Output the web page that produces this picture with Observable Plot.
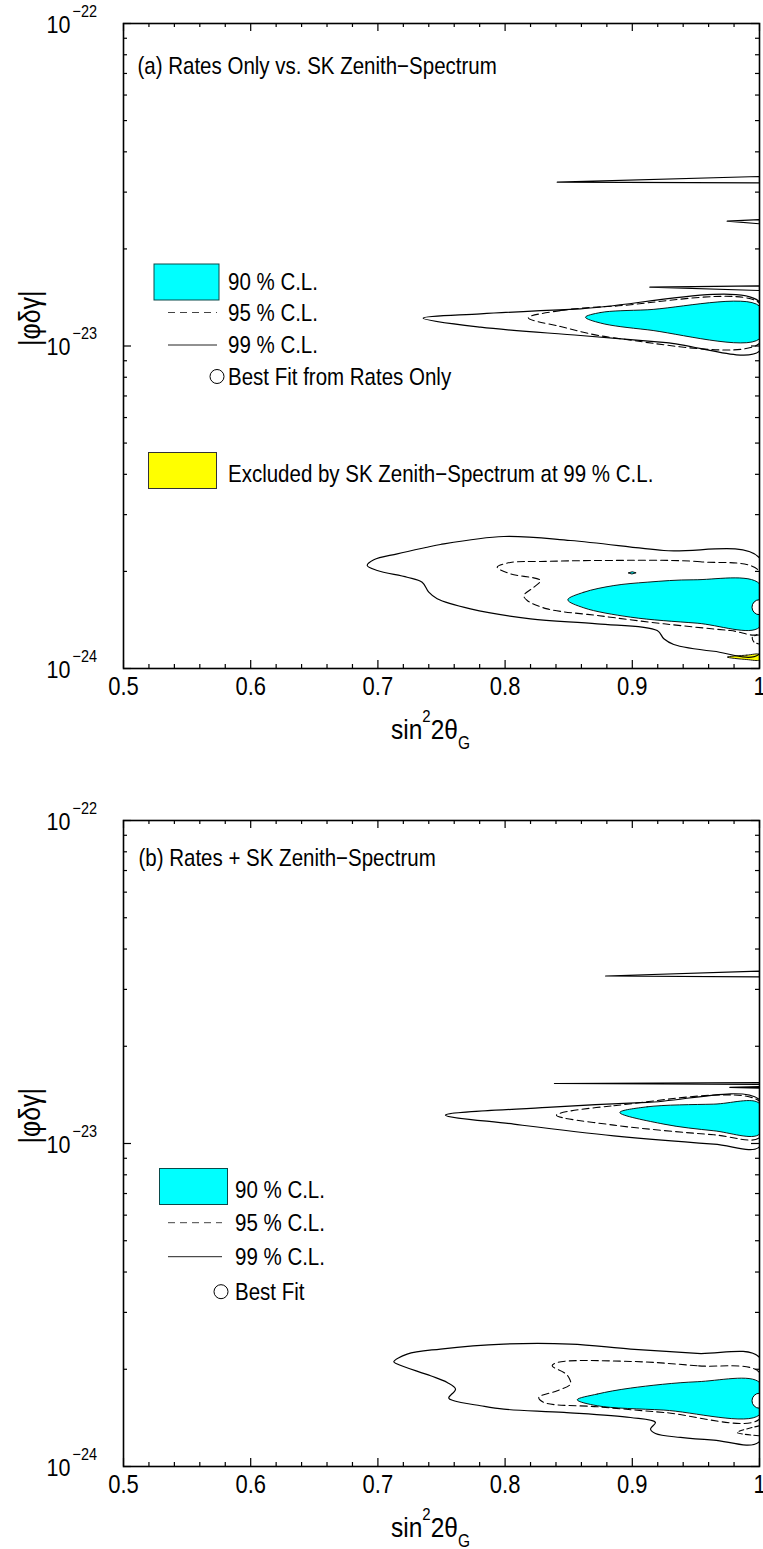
<!DOCTYPE html>
<html><head><meta charset="utf-8">
<script src="https://cdn.jsdelivr.net/npm/d3@7"></script>
<script src="https://cdn.jsdelivr.net/npm/@observablehq/plot@0.6"></script>
<style>
html,body{margin:0;padding:0;background:#fff;}
#chart{width:763px;}
#chart svg{display:block;}
</style></head><body><div id="chart"></div>
<script>
// ---------- axis ticks ----------
const xMajorTicks = [0.5, 0.6, 0.7, 0.8, 0.9, 1.0];
const xMinorTicks = [0.52,0.54,0.56,0.58,0.62,0.64,0.66,0.68,0.72,0.74,0.76,0.78,0.82,0.84,0.86,0.88,0.92,0.94,0.96,0.98];
const yExponents = [-22, -23, -24];
const yMinorMantissas = [2,3,4,5,6,7,8,9];
const yMinorDecades = [-24, -23];

// ---------- panel (a): Rates Only vs SK Zenith-Spectrum ----------
const a99Upper = [[0.7356,1.22e-23],[0.7807,1.258e-23],[0.8593,1.304e-23],[1.0,1.371e-23],[1.0,0.964e-23],[0.9266,1.025e-23],[0.8593,1.078e-23],[0.7807,1.144e-23]];
const a95Upper = [[0.8182,1.223e-23],[0.8436,1.288e-23],[0.8855,1.329e-23],[1.0,1.357e-23],[1.0,1.02e-23],[0.8855,1.06e-23],[0.8436,1.149e-23]];
const a90Upper = [[0.8632,1.228e-23],[0.875,1.27e-23],[0.9117,1.295e-23],[1.0,1.329e-23],[1.0,1.053e-23],[0.9117,1.123e-23],[0.875,1.178e-23]];
const a99Sliver1 = [[0.841,3.221e-23],[1.0,3.355e-23],[1.0,3.207e-23]];
const a99Sliver2 = [[0.9746,2.438e-23],[1.0,2.467e-23],[1.0,2.393e-23]];
const a99Sliver3 = [[0.9138,1.522e-23],[1.0,1.537e-23],[1.0,1.486e-23]];
const a99Lower = [[1.0,2.204e-24],[0.9248,2.322e-24],[0.8514,2.494e-24],[0.799,2.566e-24],[0.7492,2.424e-24],[0.7388,2.377e-24],[0.7152,2.268e-24],[0.6968,2.173e-24],[0.6916,2.086e-24],[0.6995,2.013e-24],[0.723,1.919e-24],[0.7348,1.852e-24],[0.74,1.724e-24],[0.7466,1.645e-24],[0.7728,1.531e-24],[0.82,1.426e-24],[0.8724,1.376e-24],[0.9196,1.311e-24],[0.9248,1.236e-24],[0.9326,1.187e-24],[0.9641,1.131e-24],[1.0,1.111e-24]];
const a95Lower = [[1.0,2.003e-24],[0.9536,2.142e-24],[0.875,2.162e-24],[0.8278,2.147e-24],[0.8042,2.132e-24],[0.7938,2.061e-24],[0.8042,1.966e-24],[0.8278,1.874e-24],[0.8226,1.787e-24],[0.8147,1.684e-24],[0.8174,1.625e-24],[0.8331,1.531e-24],[0.8724,1.46e-24],[0.9248,1.376e-24],[0.9772,1.311e-24],[1.0,1.287e-24]];
const a95Hook = [[1.0,1.27e-24],[0.9945,1.255e-24],[0.9955,1.21e-24],[1.0,1.19e-24]];
const a90Lower = [[0.8493,1.633e-24],[0.8619,1.724e-24],[0.8855,1.808e-24],[0.9117,1.852e-24],[0.9484,1.884e-24],[1.0,1.831e-24],[1.0,1.343e-24],[0.951,1.382e-24],[0.8986,1.443e-24],[0.8619,1.542e-24]];
const a90Speck = [[0.897,1.98e-24],[0.9,1.995e-24],[0.903,1.98e-24],[0.9,1.965e-24]];
const aExcluded = [[0.9746,1.085e-24],[0.99,1.1e-24],[1.0,1.105e-24],[1.0,1.064e-24],[0.99,1.066e-24]];
const aBestFit = [[1.0,1.549e-24]];

// ---------- panel (b): Rates + SK Zenith-Spectrum ----------
const b99Sliver1 = [[0.879,3.3e-23],[1.0,3.42e-23],[1.0,3.28e-23]];
const b99Line1 = [[0.8388,1.534e-23],[1.0,1.545e-23],[1.0,1.525e-23]];
const b99Line2 = [[0.9767,1.491e-23],[1.0,1.5e-23],[1.0,1.483e-23]];
const b99Upper = [[0.7531,1.224e-23],[0.8331,1.293e-23],[0.9117,1.34e-23],[1.0,1.366e-23],[1.0,0.977e-23],[0.9641,0.996e-23],[0.8855,1.056e-23],[0.8068,1.148e-23]];
const b95Upper = [[0.8404,1.224e-23],[0.8855,1.309e-23],[1.0,1.349e-23],[1.0,1.044e-23],[0.9641,1.064e-23],[0.8855,1.14e-23]];
const b90Upper = [[0.8902,1.247e-23],[0.9117,1.299e-23],[0.9641,1.324e-23],[1.0,1.33e-23],[1.0,1.069e-23],[0.9641,1.095e-23],[0.9248,1.148e-23]];
const b99Lower = [[1.0,2.176e-24],[0.951,2.239e-24],[0.8986,2.31e-24],[0.8514,2.394e-24],[0.799,2.394e-24],[0.7492,2.31e-24],[0.723,2.229e-24],[0.7125,2.11e-24],[0.7152,2.076e-24],[0.7414,1.909e-24],[0.7545,1.82e-24],[0.761,1.737e-24],[0.7557,1.629e-24],[0.7597,1.598e-24],[0.7807,1.542e-24],[0.799,1.505e-24],[0.8462,1.47e-24],[0.8986,1.418e-24],[0.9182,1.369e-24],[0.9143,1.306e-24],[0.9182,1.265e-24],[0.9379,1.23e-24],[0.9641,1.207e-24],[1.0,1.195e-24]];
const b95Lower = [[1.0,1.955e-24],[0.951,2.05e-24],[0.8986,2.115e-24],[0.841,2.1e-24],[0.837,2.05e-24],[0.8462,1.955e-24],[0.8501,1.887e-24],[0.8514,1.8e-24],[0.841,1.716e-24],[0.8265,1.636e-24],[0.8304,1.579e-24],[0.8724,1.531e-24],[0.9248,1.47e-24],[1.0,1.402e-24]];
const b95Hook = [[1.0,1.337e-24],[0.9825,1.274e-24],[1.0,1.245e-24]];
const b90Lower = [[0.8567,1.609e-24],[0.8724,1.676e-24],[0.8986,1.749e-24],[0.951,1.83e-24],[1.0,1.82e-24],[1.0,1.446e-24],[0.9248,1.495e-24],[0.8724,1.542e-24]];
const bBestFit = [[1.0,1.598e-24]];

// ---------- text ----------
const labelA = "(a) Rates Only vs. SK Zenith\u2212Spectrum";
const labelB = "(b) Rates + SK Zenith\u2212Spectrum";
const legendA = ["90 % C.L.", "95 % C.L.", "99 % C.L.", "Best Fit from Rates Only"];
const legendB = ["90 % C.L.", "95 % C.L.", "99 % C.L.", "Best Fit"];
const excludedLabel = "Excluded by SK Zenith\u2212Spectrum at 99 % C.L.";
const yTitle = "|\u03c6\u03b4\u03b3|";

const FONT = "'Liberation Sans', Arial, Helvetica, sans-serif";
const STRETCH = 1.15;   // reference lettering is a condensed Helvetica: taller than wide
const CYAN = "#00ffff", YELLOW = "#ffff00";
const W = 763, ML = 123, MR = 4;
const X = d => d[0], Y = d => d[1];

// stretch each text vertically about its own centre (needs the svg in the DOM)
function stretchText(svg) {
  d3.select(svg).selectAll("text").each(function () {
    const b = this.getBBox();
    const cy = b.y + b.height / 2;
    const tr = this.getAttribute("transform") || "";
    this.setAttribute("transform", `${tr} translate(0,${cy}) scale(1,${STRETCH}) translate(0,${-cy})`.trim());
  });
}

function panel(cfg) {
  const frameH = cfg.height - cfg.marginTop - cfg.marginBottom;
  const frameW = W - ML - MR;
  const yMajor = yExponents.map(e => Math.pow(10, e));
  const yMinor = yMinorDecades.flatMap(e => yMinorMantissas.map(m => m * Math.pow(10, e)));
  const marks = [];
  for (const c of cfg.fills) marks.push(Plot.line(c.data, {x: X, y: Y, fill: c.fill, stroke: "#000", strokeWidth: 0.9, curve: c.curve || "catmull-rom-closed", clip: true}));
  for (const c of cfg.dashed) marks.push(Plot.line(c, {x: X, y: Y, stroke: "#000", strokeWidth: 1.1, strokeDasharray: "7,4", curve: "catmull-rom-closed", clip: true}));
  for (const c of cfg.dashedOpen) marks.push(Plot.line(c, {x: X, y: Y, stroke: "#000", strokeWidth: 1.1, strokeDasharray: "5,3", curve: "catmull-rom", clip: true}));
  for (const c of cfg.solid) marks.push(Plot.line(c, {x: X, y: Y, stroke: "#000", strokeWidth: 1.2, curve: "catmull-rom-closed", clip: true}));
  for (const c of cfg.slivers) marks.push(Plot.line(c, {x: X, y: Y, stroke: "#000", strokeWidth: 1.2, curve: "linear-closed", clip: true}));
  marks.push(Plot.dot(cfg.best, {x: X, y: Y, r: 7.5, fill: "white", stroke: "#000", strokeWidth: 1, clip: true}));
  marks.push(Plot.frame({stroke: "#000", strokeWidth: 1.6}));
  marks.push(Plot.tickX(xMajorTicks, {x: d => d, insetTop: frameH - 8, stroke: "#000", strokeWidth: 1.2}));
  marks.push(Plot.tickX(xMajorTicks, {x: d => d, insetBottom: frameH - 8, stroke: "#000", strokeWidth: 1.2}));
  marks.push(Plot.tickX(xMinorTicks, {x: d => d, insetTop: frameH - 4, stroke: "#000", strokeWidth: 1.2}));
  marks.push(Plot.tickX(xMinorTicks, {x: d => d, insetBottom: frameH - 4, stroke: "#000", strokeWidth: 1.2}));
  marks.push(Plot.tickY(yMajor, {y: d => d, insetRight: frameW - 8, stroke: "#000", strokeWidth: 1.2}));
  marks.push(Plot.tickY(yMajor, {y: d => d, insetLeft: frameW - 8, stroke: "#000", strokeWidth: 1.2}));
  marks.push(Plot.tickY(yMinor, {y: d => d, insetRight: frameW - 4, stroke: "#000", strokeWidth: 1.2}));
  marks.push(Plot.tickY(yMinor, {y: d => d, insetLeft: frameW - 4, stroke: "#000", strokeWidth: 1.2}));
  marks.push(Plot.text(xMajorTicks, {x: d => d, frameAnchor: "bottom", dy: 25, text: d => d === 1 ? "1" : d.toFixed(1), fontSize: 22, fill: "#000"}));
  marks.push(Plot.text(yExponents, {y: d => Math.pow(10, d), frameAnchor: "left", textAnchor: "end", dx: -53, dy: 1.5, text: () => "10", fontSize: 21.5, fill: "#000"}));
  marks.push(Plot.text(yExponents, {y: d => Math.pow(10, d), frameAnchor: "left", textAnchor: "start", dx: -51, dy: -12, text: d => "\u2212" + (-d), fontSize: 14.5, fill: "#000"}));
  marks.push(Plot.text([yTitle], {frameAnchor: "left", dx: -93, rotate: -90, fontSize: 25, fill: "#000"}));
  marks.push(Plot.text([cfg.label], {frameAnchor: "top-left", dx: cfg.labelDx, dy: cfg.labelDy, textAnchor: "start", fontSize: 20.5, fill: "#000"}));

  const svg = Plot.plot({
    width: W, height: cfg.height,
    marginLeft: ML, marginRight: MR, marginTop: cfg.marginTop, marginBottom: cfg.marginBottom,
    style: {fontFamily: FONT, background: "white", color: "#000", overflow: "visible"},
    x: {domain: [0.5, 1.0], axis: null},
    y: {type: "log", domain: [1e-24, 1e-22], axis: null},
    marks
  });

  const g = d3.select(svg).append("g").attr("font-family", FONT).attr("fill", "#000").attr("text-anchor", "start");
  const t = g.append("text").attr("x", 391).attr("y", cfg.titleBaseline).attr("font-size", 24.5).attr("text-anchor", "start");
  t.append("tspan").text("sin");
  t.append("tspan").attr("dy", -15).attr("font-size", 15).text("2");
  t.append("tspan").attr("dy", 15).text("2\u03b8");
  t.append("tspan").attr("dy", 8.5).attr("font-size", 15.5).text("G");

  const L = cfg.legend;
  g.append("rect").attr("x", L.boxX).attr("y", L.boxY).attr("width", L.boxW).attr("height", 36)
    .attr("fill", CYAN).attr("stroke", "#0a4a4a").attr("stroke-width", 1);
  g.append("line").attr("x1", L.lineX1).attr("x2", L.lineX2).attr("y1", L.rows[1]).attr("y2", L.rows[1])
    .attr("stroke", "#444").attr("stroke-width", 1).attr("stroke-dasharray", "7,5");
  g.append("line").attr("x1", L.lineX1).attr("x2", L.lineX2).attr("y1", L.rows[2]).attr("y2", L.rows[2])
    .attr("stroke", "#222").attr("stroke-width", 1);
  g.append("circle").attr("cx", L.circleX).attr("cy", L.rows[3]).attr("r", 7)
    .attr("fill", "white").attr("stroke", "#000").attr("stroke-width", 1);
  L.labels.forEach((s, i) => {
    g.append("text").attr("x", L.textX).attr("y", L.rows[i]).attr("dy", "0.35em")
      .attr("font-size", 20.5).attr("text-anchor", "start").text(s);
  });
  if (L.excluded) {
    const E = L.excluded;
    g.append("rect").attr("x", E.x).attr("y", E.y).attr("width", 68).attr("height", 36)
      .attr("fill", YELLOW).attr("stroke", "#333").attr("stroke-width", 1);
    g.append("text").attr("x", E.textX).attr("y", E.y + 21).attr("dy", "0.35em")
      .attr("font-size", 20.5).attr("text-anchor", "start").text(E.text);
  }
  return svg;
}

const root = document.getElementById("chart");

const svgA = panel({
  height: 775, marginTop: 23, marginBottom: 107,
  label: labelA, labelDx: 14, labelDy: 35,
  titleBaseline: 738,
  fills: [{data: a90Upper, fill: CYAN}, {data: a90Lower, fill: CYAN}, {data: a90Speck, fill: CYAN, curve: "linear-closed"}, {data: aExcluded, fill: YELLOW}],
  dashed: [a95Upper, a95Lower],
  dashedOpen: [a95Hook],
  solid: [a99Upper, a99Lower],
  slivers: [a99Sliver1, a99Sliver2, a99Sliver3],
  best: aBestFit,
  legend: {boxX: 154, boxY: 264, boxW: 65, lineX1: 168, lineX2: 217, circleX: 217, textX: 228,
    rows: [282, 312.5, 345, 376.5], labels: legendA,
    excluded: {x: 148.5, y: 452.5, textX: 228, text: excludedLabel}}
});
root.appendChild(svgA);

const svgB = panel({
  height: 774, marginTop: 45, marginBottom: 83,
  label: labelB, labelDx: 15, labelDy: 30,
  titleBaseline: 761,
  fills: [{data: b90Upper, fill: CYAN}, {data: b90Lower, fill: CYAN}],
  dashed: [b95Upper, b95Lower],
  dashedOpen: [b95Hook],
  solid: [b99Upper, b99Lower],
  slivers: [b99Sliver1, b99Line1, b99Line2],
  best: bBestFit,
  legend: {boxX: 159.5, boxY: 393.5, boxW: 68, lineX1: 168, lineX2: 222, circleX: 221, textX: 235,
    rows: [415, 447.7, 481.7, 516.7], labels: legendB}
});
root.appendChild(svgB);

stretchText(svgA);
stretchText(svgB);
</script></body></html>
